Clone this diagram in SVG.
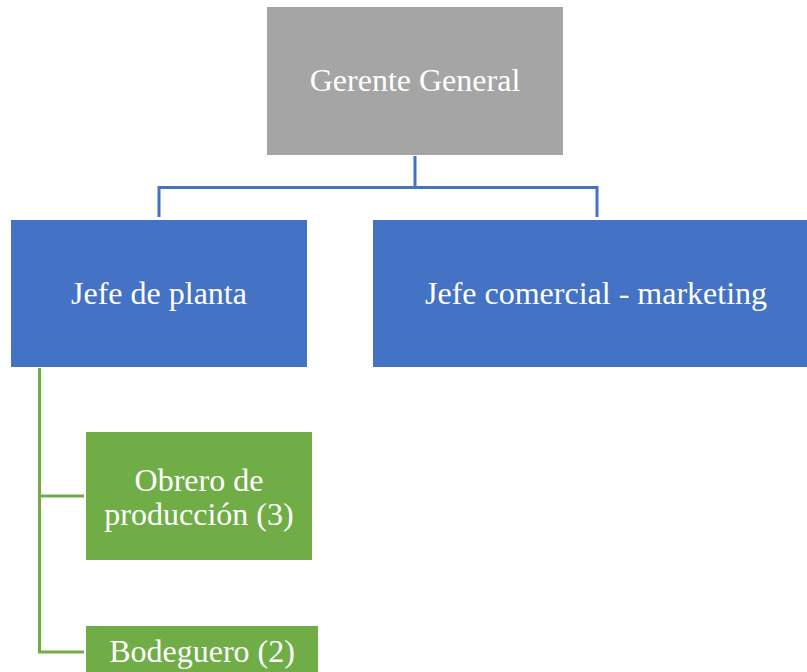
<svg xmlns="http://www.w3.org/2000/svg" width="807" height="672" viewBox="0 0 807 672">
<style>
.t{font-family:"Liberation Serif","Times New Roman",serif;font-size:32px;fill:#fff;text-anchor:middle}
.g{fill:#A5A5A5}.b{fill:#4472C4}.gr{fill:#70AD47}
.cb{stroke:#4472C4;stroke-width:3;fill:none}
.cg{stroke:#70AD47;stroke-width:3;fill:none}
</style>
<rect width="807" height="672" fill="#fff"/>
<g id="connectors">
<path class="cb" d="M415 156V187.5M159 217V187.5H597V217"/>
<path class="cg" d="M39.5 368V652M38 496H84M38 652H84"/>
</g>
<g id="gerente"><rect class="g" x="267" y="7" width="296" height="148"/><text class="t" x="415" y="91">Gerente General</text></g>
<g id="jefe-planta"><rect class="b" x="11" y="220" width="296" height="147"/><text class="t" x="159" y="304">Jefe de planta</text></g>
<g id="jefe-comercial"><rect class="b" x="373" y="220" width="434" height="147"/><text class="t" x="596" y="304">Jefe comercial - marketing</text></g>
<g id="obrero"><rect class="gr" x="86" y="432" width="226" height="128"/><text class="t" x="199" y="491">Obrero de</text><text class="t" x="199" y="525">producción (3)</text></g>
<g id="bodeguero"><rect class="gr" x="86" y="626" width="232" height="50"/><text class="t" x="202" y="662">Bodeguero (2)</text></g>
</svg>
